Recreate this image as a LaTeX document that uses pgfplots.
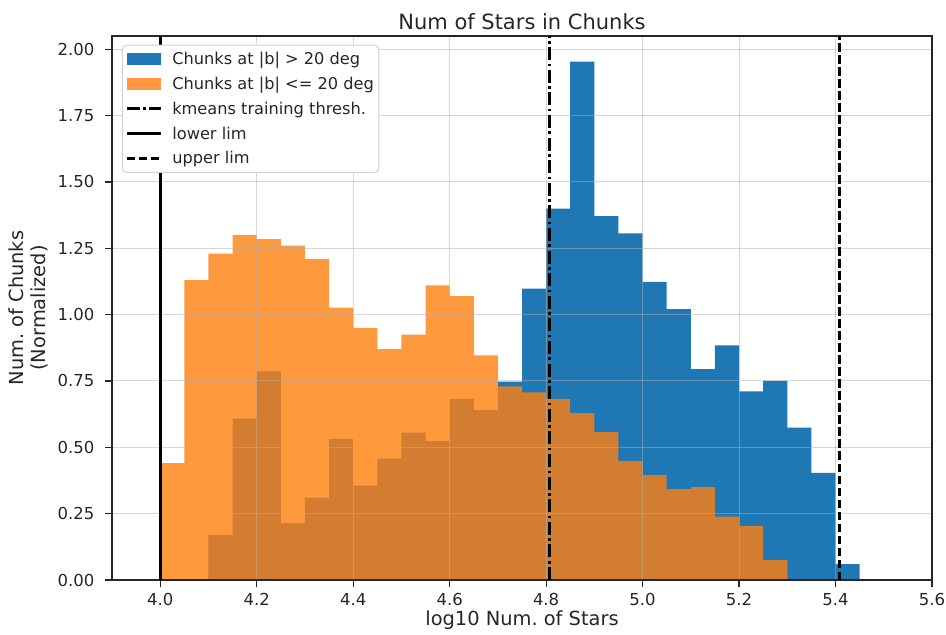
\documentclass[border=0pt]{standalone}
\usepackage{fontspec}
\setmainfont{DejaVu Sans}
\usepackage{pgfplots}
\pgfplotsset{compat=1.18}
\definecolor{mblue}{HTML}{1F77B4}
\definecolor{morange}{HTML}{FF7F0E}
\definecolor{gridgray}{HTML}{B0B0B0}

\pgfplotsset{
  patchlegend/.style={legend image code/.code={
      \fill[##1, sharp corners, draw=none] (0pt,-5.8pt) rectangle (34pt,5.8pt);}},
  linelegend/.style={legend image code/.code={
      \draw[##1, sharp corners] (0pt,0pt) -- (34pt,0pt);}},
}

\begin{document}
\frenchspacing
\begin{tikzpicture}
\begin{axis}[
  set layers,
  scale only axis, width=820pt, height=544pt,
  xmin=3.9, xmax=5.6, ymin=0, ymax=2.05,
  xtick={4.0,4.2,4.4,4.6,4.8,5.0,5.2,5.4,5.6},
  ytick={0,0.25,0.5,0.75,1,1.25,1.5,1.75,2},
  xticklabel={\pgfmathprintnumber[fixed,fixed zerofill,precision=1]{\tick}},
  yticklabel={\pgfmathprintnumber[fixed,fixed zerofill,precision=2]{\tick}},
  /pgf/number format/assume math mode=true,
  tick label style={font=\fontsize{16.5}{19}\selectfont, text=black!85},
  yticklabel style={xshift=-7pt},
  xticklabel style={yshift=-3pt},
  grid=major,
  major grid style={gridgray, opacity=0.5, line width=1pt},
  axis line style={black!85, line width=1.2pt},
  tick style={black!85, line width=1.2pt},
  tick align=outside, xtick pos=bottom, ytick pos=left,
  major tick length=7pt,
  title={Num of Stars in Chunks},
  title style={font=\fontsize{21}{24}\selectfont, text=black!85, yshift=-3pt},
  xlabel={log10 Num. of Stars},
  ylabel={Num. of Chunks\\(Normalized)},
  label style={font=\fontsize{19.4}{22}\selectfont, text=black!85},
  ylabel style={align=center, yshift=3pt},
  xlabel style={yshift=2pt},
  legend cell align=left,
  legend style={at={(0.012,0.984)}, anchor=north west,
    draw=black!18, line width=1pt, rounded corners=4pt, fill=white,
    font=\fontsize{16.2}{19}\selectfont, text=black!85,
    inner xsep=3pt, inner ysep=5pt, row sep=7pt,
    /tikz/every odd column/.append style={column sep=8pt}},
]
% |b| > 20 deg
\addplot[ybar interval, fill=mblue, draw=none, patchlegend, on layer=axis background] coordinates {
  (4.10,0.169) (4.15,0.608) (4.20,0.786) (4.25,0.214) (4.30,0.310)
  (4.35,0.532) (4.40,0.356) (4.45,0.457) (4.50,0.555) (4.55,0.523)
  (4.60,0.683) (4.65,0.640) (4.70,0.748) (4.75,1.098) (4.80,1.399)
  (4.85,1.953) (4.90,1.371) (4.95,1.306) (5.00,1.123) (5.05,1.021)
  (5.10,0.795) (5.15,0.884) (5.20,0.711) (5.25,0.750) (5.30,0.574)
  (5.35,0.404) (5.40,0.060) (5.45,0.060)
};
\addlegendentry{Chunks at |b| > 20 deg}
% |b| <= 20 deg
\addplot[ybar interval, fill=morange, fill opacity=0.8, draw=none, patchlegend, on layer=axis background] coordinates {
  (4.00,0.440) (4.05,1.130) (4.10,1.230) (4.15,1.300) (4.20,1.285)
  (4.25,1.260) (4.30,1.210) (4.35,1.026) (4.40,0.950) (4.45,0.870)
  (4.50,0.925) (4.55,1.110) (4.60,1.070) (4.65,0.846) (4.70,0.730)
  (4.75,0.707) (4.80,0.683) (4.85,0.629) (4.90,0.558) (4.95,0.449)
  (5.00,0.395) (5.05,0.342) (5.10,0.350) (5.15,0.239) (5.20,0.204)
  (5.25,0.075) (5.30,0.075)
};
\addlegendentry{Chunks at |b| <= 20 deg}
% thresholds
\addplot[black, line width=3pt, dash pattern=on 13pt off 3.5pt on 2.6pt off 3.5pt, linelegend]
  coordinates {(4.806,0) (4.806,2.05)};
\addlegendentry{kmeans training thresh.}
\addplot[black, line width=2.8pt, linelegend] coordinates {(4.0,0) (4.0,2.05)};
\addlegendentry{lower lim}
\addplot[black, line width=2.8pt, dash pattern=on 8.5pt off 3.5pt, linelegend]
  coordinates {(5.408,0) (5.408,2.05)};
\addlegendentry{upper lim}
\end{axis}
% page margins around the axis box
\pgfresetboundingbox
\path[use as bounding box] ([shift={(-112pt,-54pt)}]current axis.south west)
  rectangle ([shift={(14pt,36pt)}]current axis.north east);
\end{tikzpicture}
\end{document}
